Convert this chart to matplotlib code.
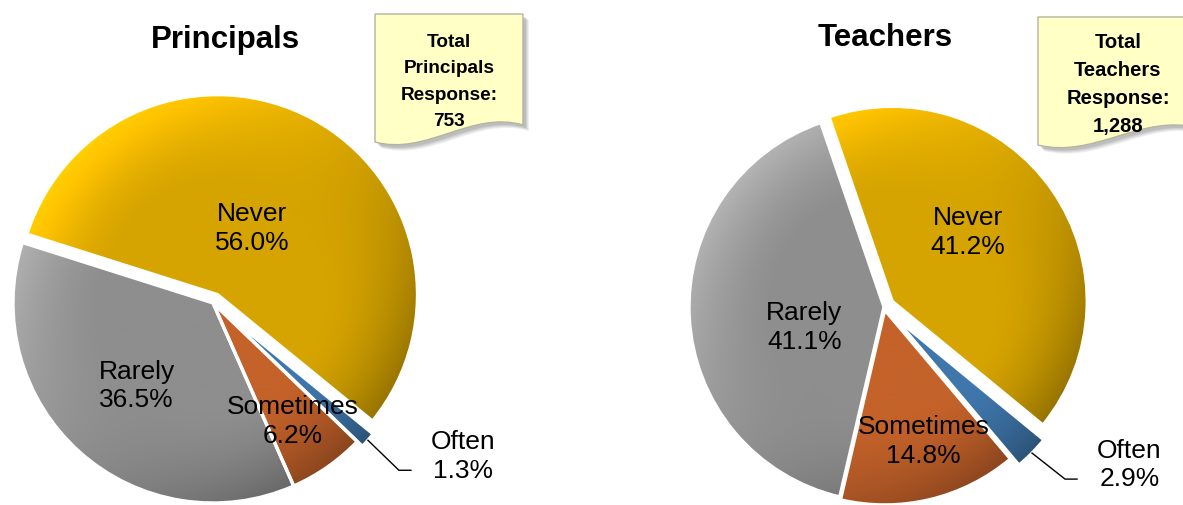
import numpy as np
import matplotlib
matplotlib.use("Agg")
import matplotlib.pyplot as plt
from matplotlib.colors import to_rgb
from matplotlib.path import Path
from matplotlib.patches import PathPatch

plt.rcParams["font.family"] = ["Liberation Sans", "DejaVu Sans"]

W, H = 1183, 506

# ---- data -------------------------------------------------------------
categories = ["Never", "Rarely", "Sometimes", "Often"]
principals_pct = [56.0, 36.5, 6.2, 1.3]
teachers_pct = [41.2, 41.1, 14.8, 2.9]
principals_total = 753
teachers_total = 1288
group_titles = ["Principals", "Teachers"]

# ---- style ------------------------------------------------------------
colors = {"Never": "#D6A400", "Rarely": "#8E8E8E",
          "Sometimes": "#C4622A", "Often": "#3F77AC"}


def iy(y):
    """Convert a top-down pixel row into the upward data axis."""
    return H - y


fig = plt.figure(figsize=(W / 100, H / 100), dpi=100)
ax = fig.add_axes([0, 0, 1, 1])


def shade_wedge(w, base):
    """Fill a wedge with a bevelled, lit-from-upper-left gradient."""
    cx, cy = w.center
    r = w.r
    n = int(2 * r) + 1
    xs = np.linspace(cx - r, cx + r, n)
    ys = np.linspace(cy - r, cy + r, n)
    X, Y = np.meshgrid(xs, ys)
    dx, dy = X - cx, Y - cy
    rho = np.hypot(dx, dy) + 1e-9
    t = rho / r
    L = np.array([-0.75, 0.66])
    L /= np.linalg.norm(L)
    d = (dx * L[0] + dy * L[1]) / rho
    rim = np.clip((t - 0.55) / 0.45, 0, 1) ** 1.5
    f = 1 + rim * np.where(d > 0, 0.27 * d, 0.30 * d)
    rgb = np.clip(np.array(to_rgb(base))[None, None, :] * f[..., None], 0, 1)
    im = ax.imshow(rgb, extent=(cx - r, cx + r, cy - r, cy + r),
                   origin="lower", zorder=2, interpolation="bilinear")
    im.set_clip_path(w)


def draw_pie(values, center, radius, start, explode, label_pos,
             often_leader, often_gap):
    wedges, _ = ax.pie(values, center=center, radius=radius,
                       startangle=start, counterclock=True, explode=explode,
                       colors=[colors[c] for c in categories],
                       wedgeprops=dict(edgecolor="white", linewidth=2.4))
    for w, cat, v in zip(wedges, categories, values):
        shade_wedge(w, colors[cat])
        w.set_facecolor("none")
        w.set_zorder(3)
        mid = np.deg2rad(0.5 * (w.theta1 + w.theta2))
        cx, cy = w.center
        text = f"{cat}\n{v:.1f}%"
        if cat in label_pos:
            frac, nudge = label_pos[cat]
            a = mid + np.deg2rad(nudge)
            ax.text(cx + frac * w.r * np.cos(a), cy + frac * w.r * np.sin(a),
                    text, ha="center", va="center", fontsize=19,
                    linespacing=1.25, zorder=5)
        else:
            ex, ey = often_leader
            p0 = (cx + w.r * np.cos(mid), cy + w.r * np.sin(mid))
            p1 = (p0[0] + ex, p0[1] + ey)
            p2 = (p1[0] + 12, p1[1])
            ax.plot([p0[0], p1[0], p2[0]], [p0[1], p1[1], p2[1]],
                    color="black", lw=1.0, zorder=4)
            ax.text(p2[0] + often_gap, p2[1] + 15, text, ha="left",
                    va="center", multialignment="center", fontsize=19,
                    linespacing=1.25, zorder=5)


def callout(x0, top, w, text, fontsize, text_cy, spacing):
    """Sticky-note style box with a wavy bottom edge and soft shadow."""
    def note_path(dx=0, dy=0):
        pts = [(x0, top), (x0 + w, top), (x0 + w, top + 111),
               (x0 + 0.65 * w, top + 96), (x0 + 0.35 * w, top + 142),
               (x0, top + 128), (x0, top)]
        pts = [(x + dx, iy(y + dy)) for x, y in pts]
        codes = [Path.MOVETO, Path.LINETO, Path.LINETO,
                 Path.CURVE4, Path.CURVE4, Path.CURVE4, Path.CLOSEPOLY]
        return Path(pts, codes)

    for k, a in [(6, 0.10), (5, 0.12), (4, 0.15), (3, 0.18)]:
        ax.add_patch(PathPatch(note_path(k, k), facecolor="#6E6E6E",
                               edgecolor="none", alpha=a, zorder=6))
    ax.add_patch(PathPatch(note_path(), facecolor="#FFFFC6",
                           edgecolor="#B4B4A0", linewidth=1.0, zorder=7))
    ax.text(x0 + w / 2, iy(text_cy), text, ha="center", va="center",
            fontsize=fontsize, fontweight="bold", linespacing=spacing,
            zorder=8)


# Principals
draw_pie(principals_pct, center=(213, iy(304)), radius=200, start=-39.2,
         explode=[9.5, 0, 0, 7],
         label_pos={"Never": (0.38, 1), "Rarely": (0.56, -1),
                    "Sometimes": (0.71, -1)},
         often_leader=(31, -30), often_gap=20)

# Teachers
draw_pie(teachers_pct, center=(884, iy(308)), radius=195, start=-39.4,
         explode=[10, 0, 3, 13],
         label_pos={"Never": (0.53, 8), "Rarely": (0.42, 11),
                    "Sometimes": (0.70, 3)},
         often_leader=(33, -26), often_gap=20)

ax.text(225, iy(48), group_titles[0], ha="center", va="baseline",
        fontsize=22.5, fontweight="bold")
ax.text(885, iy(46), group_titles[1], ha="center", va="baseline",
        fontsize=22.5, fontweight="bold")

callout(375, 15, 148, f"Total\nPrincipals\nResponse:\n{principals_total:,}",
        13.7, 82, 1.7)
callout(1038, 18, 160, f"Total\nTeachers\nResponse:\n{teachers_total:,}",
        14.6, 84, 1.6)

ax.set_xlim(0, W)
ax.set_ylim(0, H)
ax.set_aspect("auto")
ax.axis("off")

fig.savefig("out.png", dpi=100)
